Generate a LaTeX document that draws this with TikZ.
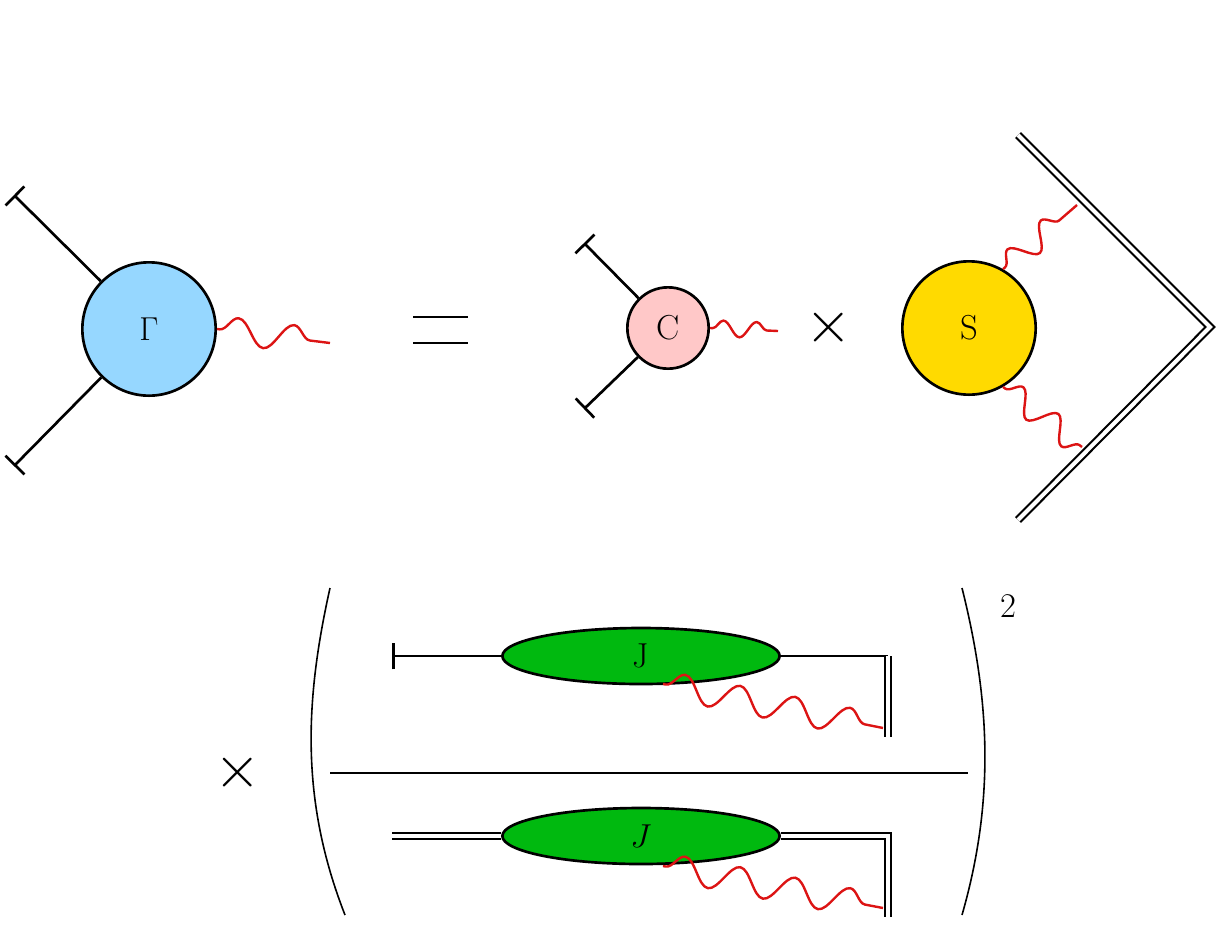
\documentclass[tikz,border=0pt]{standalone}
\usepackage{amsmath,amssymb}
\usetikzlibrary{arrows.meta,decorations.pathmorphing,shapes.geometric}
\definecolor{gamblue}{RGB}{150,215,255}
\definecolor{cpink}{RGB}{255,200,200}
\definecolor{sgold}{RGB}{255,218,0}
\definecolor{jgreen}{RGB}{0,185,15}
\definecolor{phred}{RGB}{220,20,20}
\tikzset{
  bigfont/.style={font=\fontsize{26}{28}\selectfont},
  blob/.style={circle,draw,line width=2pt,inner sep=0pt,bigfont},
  jet/.style={ellipse,draw,line width=2pt,fill=jgreen,minimum width=208pt,minimum height=42pt,inner sep=0pt,bigfont},
  leg/.style={line width=2pt,-{Bar[width=20pt,line width=2pt]}},
  wline/.style={line width=1.6pt,double,double distance=3pt},
  timessign/.style={bigfont,scale=1.8},
  photon/.style={phred,line width=1.8pt,decorate,decoration={snake,segment length=42pt,amplitude=10pt,pre length=2pt,post length=2pt}},
}
\begin{document}
\begin{tikzpicture}[x=0.75pt,y=0.75pt,yscale=-1,xscale=1]
\useasboundingbox (0,0) rectangle (1216,936);

%Gamma vertex
\node[blob,fill=gamblue,minimum size=100pt] (Gam) at (149,329) {$\Gamma$};
\coordinate (g1) at (14,195);
\coordinate (g2) at (14,466);
\coordinate (g3) at (330,343);
\draw[leg] (Gam) -- (g1);
\draw[leg] (Gam) -- (g2);
\draw[photon] (Gam.east) -- (g3);

%equals sign
\draw[line width=2pt] (413,317) -- (468,317) (413,343) -- (468,343);

%hard part
\node[blob,fill=cpink,minimum size=61pt] (C) at (668,328) {C};
\coordinate (c1) at (584,243);
\coordinate (c2) at (584,409);
\coordinate (c3) at (778,331);
\draw[leg] (C) -- (c1);
\draw[leg] (C) -- (c2);
\draw[photon,decoration={segment length=25pt,amplitude=6pt}] (C.east) -- (c3);

\node[timessign] (x1) at (829,328) {$\times$};

%soft part
\node[blob,fill=sgold,minimum size=100pt] (S) at (969,328) {S};
\coordinate (w1) at (1018,135);
\coordinate (w2) at (1210,327);
\coordinate (w3) at (1018,520);
\draw[wline] (w1) -- (w2) -- (w3);
\coordinate (s1) at (1077,205);
\coordinate (s2) at (1082,447);
\draw[photon,decoration={segment length=33pt,amplitude=9pt}] (S.60) -- (s1);
\draw[photon,decoration={segment length=33pt,amplitude=9pt}] (S.-60) -- (s2);

%jet ratio
\node[timessign] (x2) at (238,773) {$\times$};
\draw[line width=1.2pt] (330,588) .. controls (305,700) and (300,800) .. (345,915);
\draw[line width=1.2pt] (962,588) .. controls (990,700) and (995,800) .. (962,915);
\node[bigfont] (sq) at (1008,606) {2};
\draw[line width=1.2pt] (330,773) -- (968,773);

\node[jet] (J1) at (641,656) {J};
\coordinate (j1a) at (392,656);
\coordinate (j1b) at (888,656);
\coordinate (j1c) at (888,737);
\coordinate (j1d) at (883,728);
\draw[leg] (J1.west) -- (j1a);
\draw[line width=2pt] (J1.east) -- (j1b);
\draw[wline] (j1b) -- (j1c);
\draw[photon] (663,684) -- (j1d);

\node[jet] (J2) at (641,836) {$J$};
\coordinate (j2a) at (392,836);
\coordinate (j2b) at (888,836);
\coordinate (j2c) at (888,917);
\coordinate (j2d) at (883,908);
\draw[wline] (J2.west) -- (j2a);
\draw[wline] (J2.east) -- (j2b) -- (j2c);
\draw[photon] (663,866) -- (j2d);

\end{tikzpicture}
\end{document}
